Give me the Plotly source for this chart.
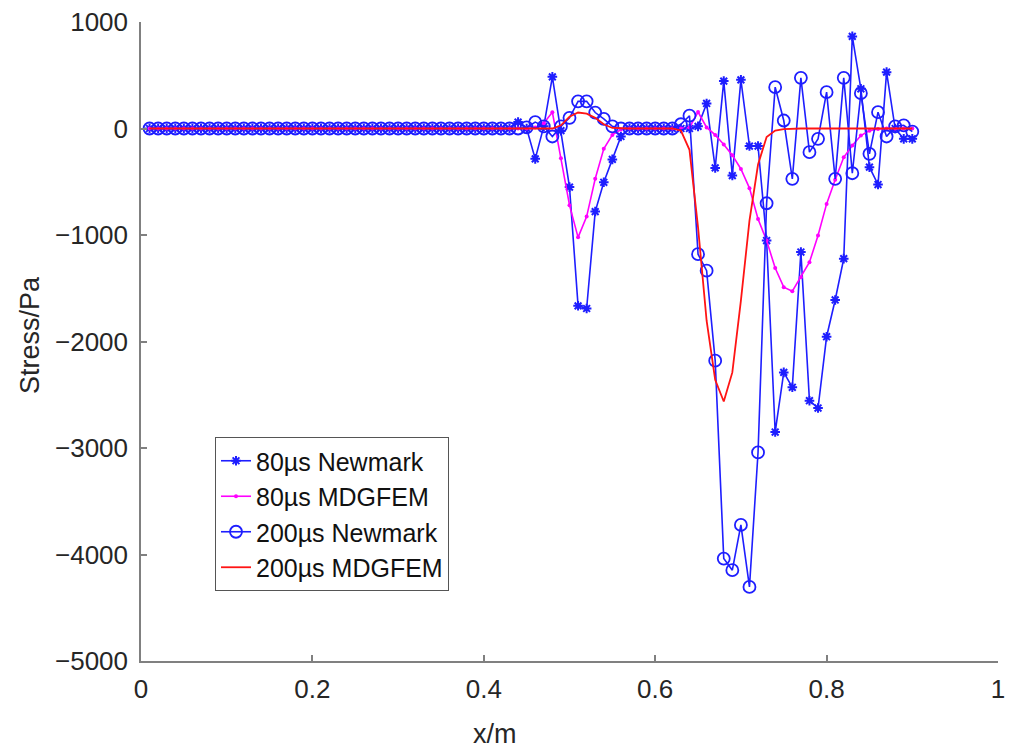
import plotly.graph_objects as go

x = [0.01, 0.02, 0.03, 0.04, 0.05, 0.06, 0.07, 0.08, 0.09, 0.10,
     0.11, 0.12, 0.13, 0.14, 0.15, 0.16, 0.17, 0.18, 0.19, 0.20,
     0.21, 0.22, 0.23, 0.24, 0.25, 0.26, 0.27, 0.28, 0.29, 0.30,
     0.31, 0.32, 0.33, 0.34, 0.35, 0.36, 0.37, 0.38, 0.39, 0.40,
     0.41, 0.42, 0.43, 0.44, 0.45, 0.46, 0.47, 0.48, 0.49, 0.50,
     0.51, 0.52, 0.53, 0.54, 0.55, 0.56, 0.57, 0.58, 0.59, 0.60,
     0.61, 0.62, 0.63, 0.64, 0.65, 0.66, 0.67, 0.68, 0.69, 0.70,
     0.71, 0.72, 0.73, 0.74, 0.75, 0.76, 0.77, 0.78, 0.79, 0.80,
     0.81, 0.82, 0.83, 0.84, 0.85, 0.86, 0.87, 0.88, 0.89, 0.90]

newmark_80 = [0, 0, 0, 0, 0, 0, 0, 0, 0, 0,
              0, 0, 0, 0, 0, 0, 0, 0, 0, 0,
              0, 0, 0, 0, 0, 0, 0, 0, 0, 0,
              0, 0, 0, 0, 0, 0, 0, 0, 0, 0,
              0, 0, 0, 60, 0, -285, 20, 485, -20, -550,
              -1665, -1690, -780, -505, -290, -75, 0, 0, 0, 0,
              0, 0, 0, 0, 20, 235, -370, 445, -442, 457,
              -165, -165, -1052, -2850, -2290, -2430, -1160, -2556, -2625, -1955,
              -1610, -1222, 865, 373, -363, -526, 529, 0, -97, -97]

mdgfem_80 = [0, 0, 0, 0, 0, 0, 0, 0, 0, 0,
             0, 0, 0, 0, 0, 0, 0, 0, 0, 0,
             0, 0, 0, 0, 0, 0, 0, 0, 0, 0,
             0, 0, 0, 0, 0, 0, 0, 0, 0, 0,
             0, 0, 0, 0, 0, 10, 50, 153, -280, -720,
             -1022, -827, -472, -190, -60, -10, 0, 0, 0, 0,
             0, 0, 0, 10, 155, 10, -60, -150, -250, -380,
             -560, -849, -1052, -1310, -1490, -1528, -1397, -1256, -1005, -708,
             -482, -270, -160, -66, -20, -5, 0, 0, 0, 0]

newmark_200 = [0, 0, 0, 0, 0, 0, 0, 0, 0, 0,
               0, 0, 0, 0, 0, 0, 0, 0, 0, 0,
               0, 0, 0, 0, 0, 0, 0, 0, 0, 0,
               0, 0, 0, 0, 0, 0, 0, 0, 0, 0,
               0, 0, 0, 0, 10, 60, 20, -75, 20, 100,
               255, 255, 150, 90, 20, 0, 0, 0, 0, 0,
               0, 0, 40, 120, -1180, -1335, -2180, -4038, -4147, -3722,
               -4304, -3042, -702, 388, 75, -473, 476, -222, -97, 341,
               -473, 476, -420, 332, -238, 153, -75, 20, 30, -30]

mdgfem_200 = [0, 0, 0, 0, 0, 0, 0, 0, 0, 0,
              0, 0, 0, 0, 0, 0, 0, 0, 0, 0,
              0, 0, 0, 0, 0, 0, 0, 0, 0, 0,
              0, 0, 0, 0, 0, 0, 0, 0, 0, 0,
              0, 0, 0, 0, 0, 0, 0, 0, 30, 110,
              150, 140, 100, 40, 5, 0, 0, 0, 0, 0,
              0, 0, -20, -200, -928, -1805, -2360, -2563, -2290, -1617,
              -865, -338, -80, -20, -5, 0, 0, 0, 0, 0,
              0, 0, 0, 0, 0, 0, 0, 0, 0, 0]

x_ticks = [0, 0.2, 0.4, 0.6, 0.8, 1]
x_tick_labels = ["0", "0.2", "0.4", "0.6", "0.8", "1"]
y_ticks = [1000, 0, -1000, -2000, -3000, -4000, -5000]
y_tick_labels = ["1000", "0", "\u22121000", "\u22122000", "\u22123000", "\u22124000", "\u22125000"]

BLUE = "rgb(30,30,255)"
MAGENTA = "rgb(255,0,255)"
RED = "rgb(255,20,20)"
FONT = "Liberation Sans, Arial, sans-serif"

fig = go.Figure()
fig.add_trace(go.Scatter(
    x=x, y=newmark_80, name="80\u00b5s Newmark", mode="lines+markers",
    line=dict(color=BLUE, width=1.6),
    marker=dict(symbol="asterisk-open", size=8, color=BLUE, line=dict(color=BLUE, width=2))))
fig.add_trace(go.Scatter(
    x=x, y=mdgfem_80, name="80\u00b5s MDGFEM", mode="lines+markers",
    line=dict(color=MAGENTA, width=1.6),
    marker=dict(symbol="circle", size=4, color=MAGENTA)))
fig.add_trace(go.Scatter(
    x=x, y=newmark_200, name="200\u00b5s Newmark", mode="lines+markers",
    line=dict(color=BLUE, width=1.6),
    marker=dict(symbol="circle-open", size=12, color=BLUE, line=dict(color=BLUE, width=1.8))))
fig.add_trace(go.Scatter(
    x=x, y=mdgfem_200, name="200\u00b5s MDGFEM", mode="lines",
    line=dict(color=RED, width=1.8)))

# The page body has an 8px margin, so the figure is shrunk by 8px and
# margins are set so the plot area lands at page x 141..998, y 22..661.
fig.update_layout(
    width=1008, height=743,
    margin=dict(l=133, r=18, t=14, b=90),
    paper_bgcolor="white", plot_bgcolor="white",
    font=dict(family=FONT, size=26, color="#262626"),
    showlegend=True,
    legend=dict(
        x=(215 - 141) / 857, y=(661 - 437) / 639, xanchor="left", yanchor="top",
        bgcolor="white", bordercolor="#555555", borderwidth=1,
        font=dict(family=FONT, size=25, color="#111111"),
        tracegroupgap=0, itemwidth=30,
        entrywidth=225, entrywidthmode="pixels",
    ),
    annotations=[
        dict(text="x/m", xref="paper", yref="paper", x=(495 - 141) / 857, y=(661 - 734) / 639,
             xanchor="center", yanchor="middle", showarrow=False,
             font=dict(family=FONT, size=27, color="#262626")),
        dict(text="Stress/Pa", xref="paper", yref="paper", x=(30 - 141) / 857, y=(661 - 335) / 639,
             xanchor="center", yanchor="middle", showarrow=False, textangle=-90,
             font=dict(family=FONT, size=27, color="#262626")),
    ],
)
fig.update_xaxes(
    range=[0, 1], tickvals=x_ticks, ticktext=x_tick_labels, automargin=False,
    showgrid=False, zeroline=False, showline=True, linecolor="#808080", linewidth=1.5,
    ticks="inside", ticklen=6, tickcolor="#808080", tickwidth=1.5, mirror=False,
    ticklabelstandoff=4, ticklabeloverflow="allow",
)
fig.update_yaxes(
    range=[-5000, 1000], tickvals=y_ticks, ticktext=y_tick_labels, automargin=False,
    showgrid=False, zeroline=False, showline=True, linecolor="#808080", linewidth=1.5,
    ticks="inside", ticklen=6, tickcolor="#808080", tickwidth=1.5, mirror=False,
    ticklabelstandoff=6, ticklabeloverflow="allow",
)

fig.write_html("out.html")
